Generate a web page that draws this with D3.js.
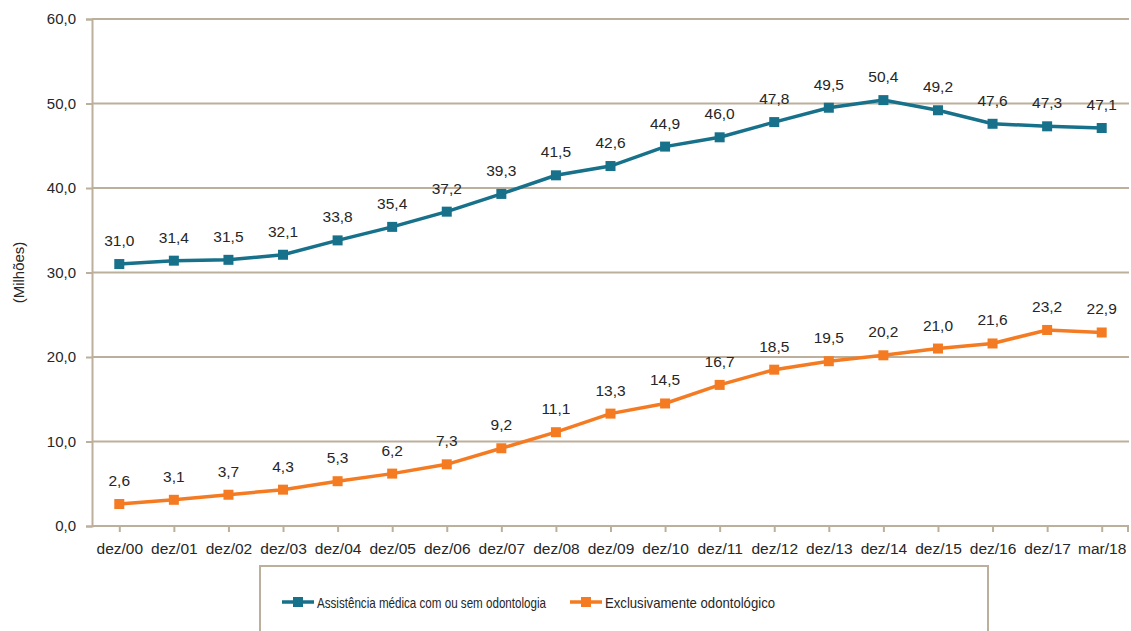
<!DOCTYPE html>
<html lang="pt">
<head>
<meta charset="UTF-8">
<title>Beneficiários</title>
<script src="https://cdn.jsdelivr.net/npm/d3@7"></script>
<style>
    body { margin: 0; background: #fff; }
    text { font-family: "Liberation Sans", Arial, sans-serif; fill: #262626; }
</style>
</head>
<body>
<script>
    const categories = ["dez/00", "dez/01", "dez/02", "dez/03", "dez/04", "dez/05", "dez/06", "dez/07", "dez/08", "dez/09",
        "dez/10", "dez/11", "dez/12", "dez/13", "dez/14", "dez/15", "dez/16", "dez/17", "mar/18"];
    const medica = [31.0, 31.4, 31.5, 32.1, 33.8, 35.4, 37.2, 39.3, 41.5, 42.6, 44.9, 46.0, 47.8, 49.5, 50.4, 49.2, 47.6, 47.3, 47.1];
    const odonto = [2.6, 3.1, 3.7, 4.3, 5.3, 6.2, 7.3, 9.2, 11.1, 13.3, 14.5, 16.7, 18.5, 19.5, 20.2, 21.0, 21.6, 23.2, 22.9];
    const yTicks = [0, 10, 20, 30, 40, 50, 60];
    const seriesNames = ["Assistência médica com ou sem odontologia", "Exclusivamente odontológico"];

    const width = 1131;
    const height = 631;
    const marginLeft = 92;
    const marginRight = 2;
    const marginTop = 19;
    const plotBottom = 526;
    const axisColor = "#BCAF9C";
    const colors = ["#17718A", "#F47B22"];
    const fmt = v => v.toFixed(1).replace(".", ",");
    const mainFont = "'Liberation Sans', Arial, sans-serif";

    const svg = d3.select("body").append("svg")
        .attr("width", width)
        .attr("height", height);

    const x = d3.scalePoint()
        .domain(categories)
        .range([marginLeft, width - marginRight])
        .padding(0.5);

    const y = d3.scaleLinear()
        .domain([0, 60])
        .range([plotBottom, marginTop]);

    // gridlines
    svg.append("g")
        .selectAll("line")
        .data(yTicks.filter(d => d > 0))
        .join("line")
        .attr("x1", marginLeft)
        .attr("x2", width - marginRight)
        .attr("y1", d => y(d))
        .attr("y2", d => y(d))
        .attr("stroke", axisColor)
        .attr("stroke-width", 2);

    // y axis
    const yAxis = svg.append("g")
        .attr("transform", `translate(${marginLeft},0)`)
        .call(d3.axisLeft(y).tickValues(yTicks).tickFormat(fmt).tickSize(6).tickPadding(10));
    yAxis.select(".domain").attr("stroke", axisColor).attr("stroke-width", 2);
    yAxis.selectAll(".tick line").attr("stroke", axisColor).attr("stroke-width", 2);
    yAxis.selectAll(".tick text").attr("font-size", 15).attr("fill", "#262626")
        .style("font-family", mainFont);

    // x axis
    const xAxis = svg.append("g")
        .attr("transform", `translate(0,${plotBottom})`)
        .call(d3.axisBottom(x).tickSizeOuter(0).tickSize(6).tickPadding(11));
    xAxis.select(".domain").attr("stroke", axisColor).attr("stroke-width", 2)
        .attr("d", `M${marginLeft},0H${width - marginRight}`);
    xAxis.selectAll(".tick line").attr("stroke", axisColor).attr("stroke-width", 2);
    xAxis.selectAll(".tick text").attr("font-size", 15.5).attr("fill", "#262626")
        .style("font-family", mainFont);
    xAxis.append("line")
        .attr("x1", width - marginRight - 1).attr("x2", width - marginRight - 1)
        .attr("y1", 0).attr("y2", 6)
        .attr("stroke", axisColor).attr("stroke-width", 2);

    // y label
    svg.append("text")
        .attr("transform", `translate(24,${(marginTop + plotBottom) / 2}) rotate(-90)`)
        .attr("text-anchor", "middle")
        .attr("font-size", 15)
        .text("(Milhões)");

    const line = d3.line()
        .x((d, i) => x(categories[i]))
        .y(d => y(d));

    [medica, odonto].forEach((series, s) => {
        const g = svg.append("g");
        g.append("path")
            .datum(series)
            .attr("fill", "none")
            .attr("stroke", colors[s])
            .attr("stroke-width", 3.5)
            .attr("d", line);
        g.selectAll("rect")
            .data(series)
            .join("rect")
            .attr("x", (d, i) => x(categories[i]) - 5)
            .attr("y", d => y(d) - 5)
            .attr("width", 10)
            .attr("height", 10)
            .attr("fill", colors[s]);
        g.selectAll("text")
            .data(series)
            .join("text")
            .attr("x", (d, i) => x(categories[i]))
            .attr("y", d => y(d) - 18)
            .attr("text-anchor", "middle")
            .attr("font-size", 15.5)
            .text(fmt);
    });

    // legend
    const legend = svg.append("g");
    legend.append("rect")
        .attr("x", 260).attr("y", 566)
        .attr("width", 728).attr("height", 80)
        .attr("fill", "none")
        .attr("stroke", axisColor)
        .attr("stroke-width", 2);
    const legendX = [282, 570];
    const legendTextWidth = [229, 170];
    seriesNames.forEach((name, s) => {
        const lg = legend.append("g").attr("transform", `translate(${legendX[s]},602)`);
        lg.append("line")
            .attr("x1", 0).attr("x2", 32)
            .attr("stroke", colors[s]).attr("stroke-width", 3.5);
        lg.append("rect")
            .attr("x", 11).attr("y", -5).attr("width", 10).attr("height", 10)
            .attr("fill", colors[s]);
        lg.append("text")
            .attr("x", 35).attr("y", 5.5)
            .attr("font-size", 14.5)
            .attr("textLength", legendTextWidth[s])
            .attr("lengthAdjust", "spacingAndGlyphs")
            .text(name);
    });
</script>
</body>
</html>
